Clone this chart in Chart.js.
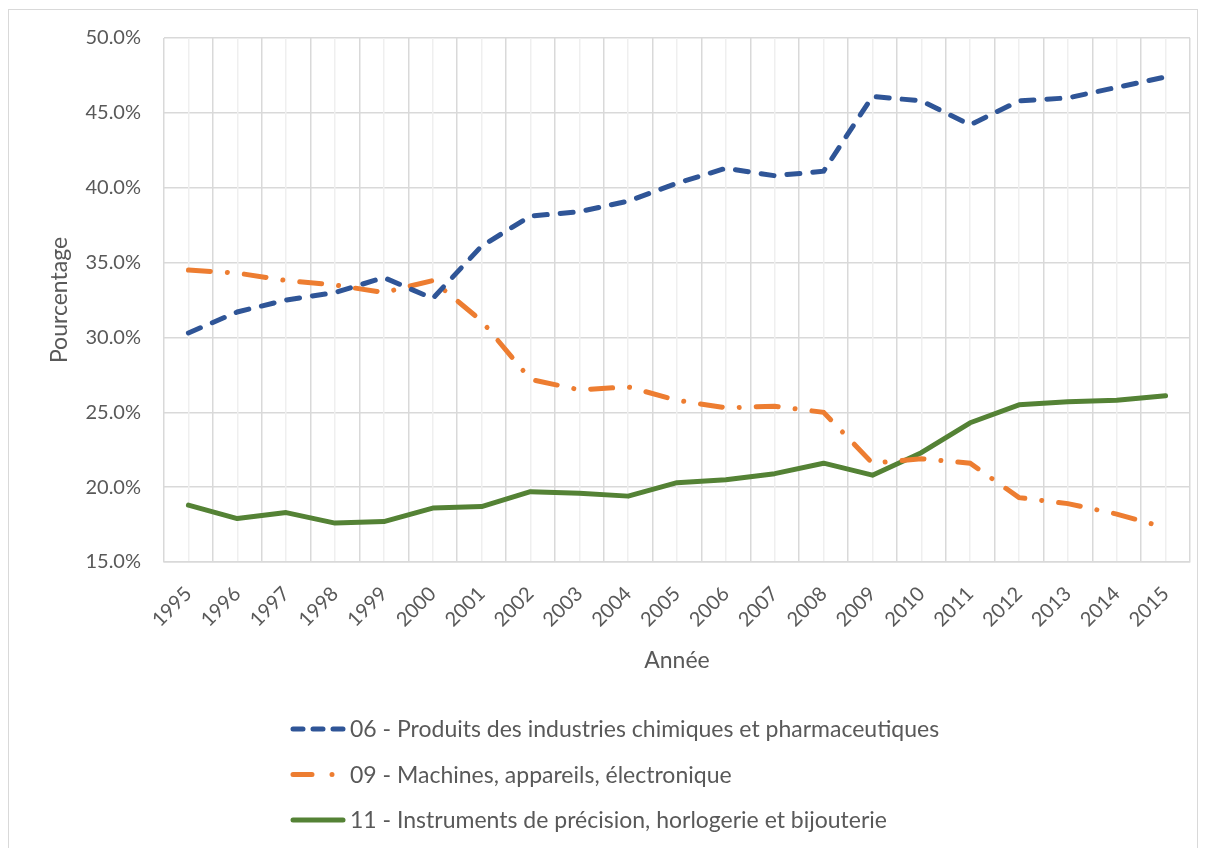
<!DOCTYPE html>
<html>
<head>
<meta charset="utf-8">
<script src="https://cdn.jsdelivr.net/npm/chart.js@4"></script>
<style>
  html, body { margin:0; padding:0; background:#fff; }
  #wrap { width:1206px; height:848px; position:relative; }
</style>
</head>
<body>
<div id="wrap"><canvas id="chart" width="1206" height="848"></canvas></div>
<script>
const years = ['1995','1996','1997','1998','1999','2000','2001','2002','2003','2004','2005',
  '2006','2007','2008','2009','2010','2011','2012','2013','2014','2015'];

// shares in %
const chimie = [30.3,31.7,32.5,33.0,34.0,32.6,36.1,38.1,38.4,39.1,40.3,41.3,40.8,41.1,46.1,45.8,44.2,45.8,46.0,46.7,47.4];
const machines = [34.5,34.3,33.8,33.5,33.0,33.8,31.1,27.2,26.5,26.7,25.8,25.3,25.4,25.0,21.6,21.9,21.6,19.3,18.9,18.2,17.3];
const instruments = [18.8,17.9,18.3,17.6,17.7,18.6,18.7,19.7,19.6,19.4,20.3,20.5,20.9,21.6,20.8,22.3,24.3,25.5,25.7,25.8,26.1];

const seriesNames = [
  '06 - Produits des industries chimiques et pharmaceutiques',
  '09 - Machines, appareils, électronique',
  '11 - Instruments de précision, horlogerie et bijouterie'
];

const FONT = 'Lato, "Liberation Sans", sans-serif';
const TXT = '#595959';

// frame + legend drawn on the canvas
const extras = {
  id: 'extras',
  beforeDraw(chart){
    const ctx = chart.ctx;
    ctx.save();
    ctx.strokeStyle = '#d9d9d9';
    ctx.lineWidth = 1;
    ctx.strokeRect(8.5, 9.5, 1189, 850);
    ctx.restore();
  },
  afterDraw(chart){
    const ctx = chart.ctx;
    ctx.save();
    chart.data.datasets.forEach((ds, i) => {
      const y = 729 + i * 45.5;
      ctx.strokeStyle = ds.borderColor;
      ctx.lineWidth = ds.borderWidth;
      ctx.lineCap = 'round';
      ctx.setLineDash(ds.legendDash || []);
      ctx.beginPath();
      ctx.moveTo(293, y);
      ctx.lineTo(343, y);
      ctx.stroke();
      ctx.setLineDash([]);
      ctx.fillStyle = TXT;
      ctx.font = '23px ' + FONT;
      ctx.textBaseline = 'middle';
      ctx.textAlign = 'left';
      ctx.fillText(ds.label, 350, y + 1);
    });
    ctx.restore();
  }
};

new Chart(document.getElementById('chart').getContext('2d'), {
  type: 'line',
  data: {
    labels: years,
    datasets: [
      {label: seriesNames[0], data: chimie, borderColor:'#2F5597', borderWidth:5,
       borderDash:[13,13], legendDash:[10,10], borderCapStyle:'round', pointRadius:0, tension:0, xAxisID:'x'},
      {label: seriesNames[1], data: machines, borderColor:'#ED7D31', borderWidth:5,
       borderDash:[22,17,0.01,17], legendDash:[19,20,0.01,40], borderCapStyle:'round', pointRadius:0, tension:0, xAxisID:'x'},
      {label: seriesNames[2], data: instruments, borderColor:'#548235', borderWidth:5,
       borderCapStyle:'round', borderJoinStyle:'round', pointRadius:0, tension:0, xAxisID:'x'}
    ]
  },
  options: {
    responsive: false,
    animation: false,
    events: [],
    layout: { padding: {left:36, right:16, top:38, bottom:166} },
    plugins: { legend:{display:false}, tooltip:{enabled:false} },
    scales: {
      y: {
        min: 15, max: 50,
        ticks: { stepSize:5, padding:23, color:TXT, font:{family:FONT, size:20},
                 callback: v => v.toFixed(1) + '%' },
        grid: { color:'#d9d9d9', lineWidth:1.5, drawTicks:false },
        border: { display:false },
        title: { display:true, text:'Pourcentage', color:TXT, font:{family:FONT, size:23}, padding:{top:10, bottom:0} },
        afterFit: s => { s.width = 128; }
      },
      x: {
        type: 'category',
        offset: true,
        ticks: { color:TXT, font:{family:FONT, size:20}, minRotation:45, maxRotation:45, padding:20, autoSkip:false },
        grid: { offset:true, color:'#d9d9d9', lineWidth:1.5, drawTicks:false },
        border: { color:'#d9d9d9', width:1.5 },
        title: { display:true, text:'Année', color:TXT, font:{family:FONT, size:23}, padding:{top:0, bottom:8} },
        afterFit: s => { s.height = 120; }
      },
      x2: {
        type: 'category',
        labels: years,
        position: 'bottom',
        offset: true,
        ticks: { display:false },
        grid: { offset:false, color:'#efefef', lineWidth:1.5, drawTicks:false },
        border: { display:false },
        afterFit: s => { s.height = 0; }
      }
    }
  },
  plugins: [extras]
});
</script>
</body>
</html>
